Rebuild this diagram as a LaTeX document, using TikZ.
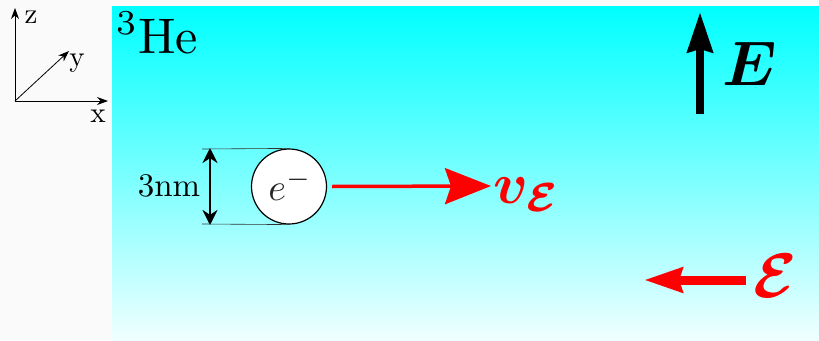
\documentclass[tikz,border=0pt]{standalone}
\usepackage{amsmath}
\usepackage{bm}
\usetikzlibrary{arrows.meta}
\tikzset{
  axis/.style={line width=0.8pt,-{Stealth[length=11pt,width=8pt]}},
  axlabel/.style={scale=2.9,inner sep=0pt},
  dimline/.style={line width=0.6pt,black!80},
  redarrow/.style={red,line width=3.5pt,-{Stealth[length=46pt,width=36pt,inset=6pt]}},
}
\begin{document}
\begin{tikzpicture}[x=1pt,y=-1pt]
\fill[black!2] (0,0) rectangle (819,340);
\useasboundingbox (0,0) rectangle (819,340);
\shade[top color=cyan,bottom color=cyan!6] (112,6) rectangle (819,340);
% axes
\coordinate (o) at (15,101);
\coordinate (zt) at (15,8);
\coordinate (xt) at (108,101);
\coordinate (yt) at (69,51);
\draw[axis] (o) -- (zt);
\draw[axis] (o) -- (xt);
\draw[axis] (o) -- (yt);
\node[axlabel] (zl) at (31,17) {z};
\node[axlabel] (yl) at (77,63) {y};
\node[axlabel] (xl) at (98,116) {x};
% 3He
\node[anchor=base west,inner sep=0pt,scale=5] (he) at (115,53) {\textsuperscript{3}He};
% electron
\node[circle,draw,line width=1.2pt,fill=white,minimum size=75pt,inner sep=0pt] (el) at (289,186.5) {};
\node[inner sep=0pt,scale=3.8,text=black!85] (elt) at (290,185) {$e^{-}$};
\coordinate (t1) at (202,149);
\coordinate (b1) at (202,224);
\draw[dimline] (t1) -- (el.north);
\draw[dimline] (b1) -- (el.south);
\coordinate (da) at (210,148);
\coordinate (db) at (210,225);
\draw[line width=2.8pt,{Stealth[length=15pt,width=15pt]}-{Stealth[length=15pt,width=15pt]}] (da) -- (db);
\node[inner sep=0pt,scale=3.3] (nm) at (169,186) {3nm};
% velocity arrow
\coordinate (vend) at (491,186);
\draw[redarrow] (el.east) ++(5,0) coordinate (vs) -- (vend);
\node[anchor=base west,inner sep=0pt,text=red,scale=5.8] (vl) at (492,203) {$\bm{v_{\mathcal{E}}}$};
% field E
\coordinate (es) at (700,114);
\coordinate (ee) at (700,12);
\draw[line width=8pt,-{Stealth[length=40pt,width=25pt,inset=3pt]}] (es) -- (ee);
\node[anchor=base west,inner sep=0pt,scale=6.3] (el2) at (721,85) {$\bm{E}$};
% script E arrow
\coordinate (cs) at (746,280);
\coordinate (ce) at (644,280);
\draw[red,line width=9pt,-{Stealth[length=38pt,width=24pt,inset=3pt]}] (cs) -- (ce);
\node[anchor=base west,inner sep=0pt,text=red,scale=6.3] (cl) at (752,297) {$\bm{\mathcal{E}}$};
\end{tikzpicture}
\end{document}
